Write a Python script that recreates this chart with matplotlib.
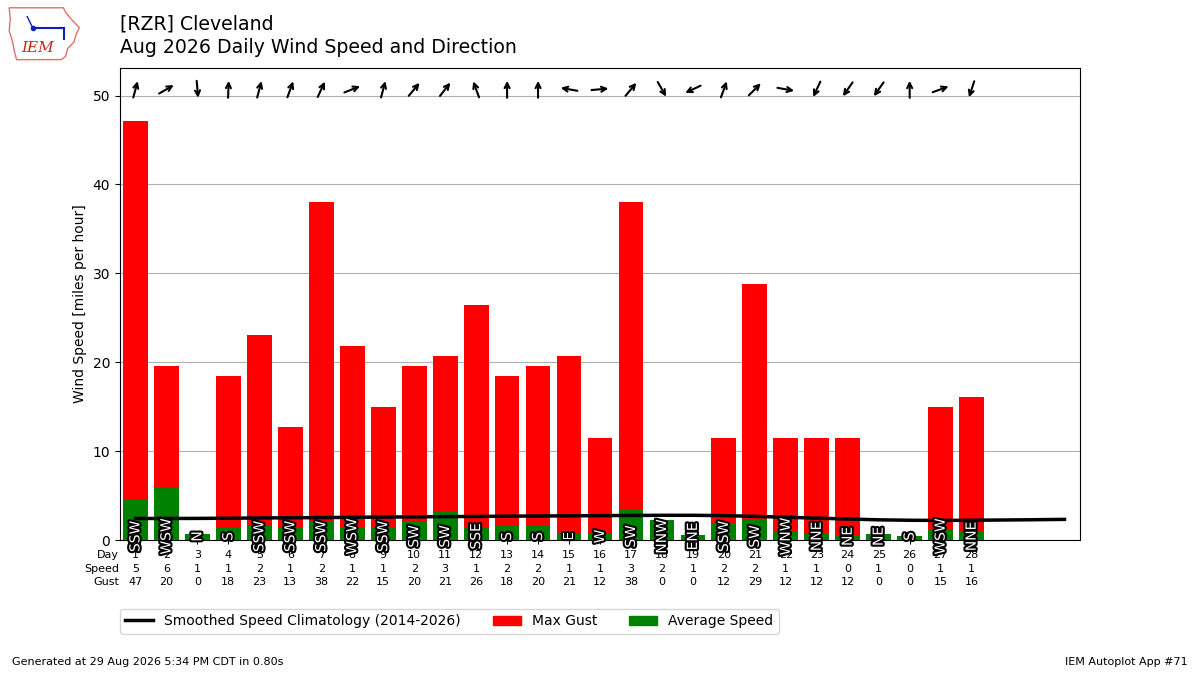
import matplotlib
matplotlib.use("Agg")
import matplotlib.pyplot as plt
import matplotlib.patheffects as PathEffects
import matplotlib.transforms as mtransforms
from matplotlib.patches import Patch, Polygon
from matplotlib.lines import Line2D
import numpy as np

# daily values (mph)
days = list(range(1, 29))
avg_speed = [4.6, 6.0, 0.71, 1.39, 1.69, 1.39, 2.06, 1.39, 1.39, 2.06,
             3.19, 1.39, 1.69, 1.69, 0.71, 0.79, 3.45, 2.25, 0.56, 1.88,
             2.33, 0.94, 0.71, 0.49, 0.71, 0.49, 1.24, 0.94]
max_gust = [47.18, 19.56, 0, 18.41, 23.02, 12.66, 37.97, 21.86, 14.96, 19.56,
            20.71, 26.47, 18.41, 19.56, 20.71, 11.51, 37.97, 0, 0, 11.51,
            28.77, 11.51, 11.51, 11.51, 0, 0, 14.96, 16.11]
avg_drct = [195, 240, 355, 182, 195, 200, 205, 248, 195, 220,
            218, 160, 180, 180, 100, 265, 220, 330, 65, 200,
            225, 280, 25, 35, 35, 180, 250, 18]
drct_text = ["SSW", "WSW", "N", "S", "SSW", "SSW", "SSW", "WSW", "SSW", "SW",
             "SW", "SSE", "S", "S", "E", "W", "SW", "NNW", "ENE", "SSW",
             "SW", "WNW", "NNE", "NE", "NE", "S", "WSW", "NNE"]

# smoothed climatology, days 1..31
clim_days = list(range(1, 32))
clim_speed = [2.42, 2.42, 2.43, 2.45, 2.48, 2.5, 2.52, 2.55, 2.58, 2.6,
              2.63, 2.65, 2.68, 2.7, 2.72, 2.74, 2.76, 2.78, 2.78, 2.74,
              2.66, 2.56, 2.46, 2.36, 2.27, 2.22, 2.2, 2.22, 2.25, 2.28, 2.32]

fig = plt.figure(figsize=(12, 6.75), dpi=100)
ax = fig.add_axes([0.1, 0.2, 0.8, 0.6993])

ax.bar(days, max_gust, width=0.8, color="r", zorder=2)
ax.bar(days, avg_speed, width=0.8, color="g", zorder=3)
ax.plot(clim_days, clim_speed, color="k", lw=2.5, zorder=4)

# direction labels inside the bars
for d, txt in zip(days, drct_text):
    t = ax.text(d, 0.4, txt, rotation=90, ha="center", va="center",
                color="white", fontsize=10, zorder=5)
    t.set_path_effects([PathEffects.withStroke(linewidth=3, foreground="k")])

# direction arrows along the top (pointing where the wind blows to)
half = 6.1
for d, drct in zip(days, avg_drct):
    theta = np.radians(drct + 180)
    dx = half * np.sin(theta)
    dy = half * np.cos(theta)
    head = mtransforms.offset_copy(ax.transData, fig=fig, x=dx, y=dy, units="points")
    tail = mtransforms.offset_copy(ax.transData, fig=fig, x=-dx, y=-dy, units="points")
    ax.annotate("", xy=(d, 50.7), xycoords=head, xytext=(d, 50.7), textcoords=tail,
                arrowprops=dict(arrowstyle="->", lw=1.5, color="k",
                                shrinkA=0, shrinkB=0, mutation_scale=9),
                zorder=6)

ax.set_xlim(0.5, 31.5)
ax.set_ylim(0, 53.1)
ax.set_yticks([0, 10, 20, 30, 40, 50])
ax.set_xticks(days)
ax.set_xticklabels([])
ax.tick_params(axis="x", length=3)
ax.grid(axis="y", color="#b0b0b0", lw=0.8)
ax.set_axisbelow(True)
ax.set_ylabel("Wind Speed [miles per hour]")

# table of values below the axis
trans = mtransforms.blended_transform_factory(ax.transData, ax.transAxes)
rows = [("Day", days),
        ("Speed", [int(round(v)) for v in avg_speed]),
        ("Gust", [int(round(v)) for v in max_gust])]
for i, (name, vals) in enumerate(rows):
    y = -0.032 - i * 0.0288
    ax.text(0.47, y, name, transform=trans, ha="right", va="center", fontsize=8)
    for d, v in zip(days, vals):
        ax.text(d, y, str(v), transform=trans, ha="center", va="center", fontsize=8)

handles = [Line2D([], [], color="k", lw=2.5),
           Patch(color="r"), Patch(color="g")]
labels = ["Smoothed Speed Climatology (2014-2026)", "Max Gust", "Average Speed"]
fig.legend(handles, labels, loc="upper left", bbox_to_anchor=(0.094, 0.1085),
           ncol=3, fontsize=10, columnspacing=2.3)

fig.text(0.1, 0.965, "[RZR] Cleveland", fontsize=13.6, va="center")
fig.text(0.1, 0.929, "Aug 2026 Daily Wind Speed and Direction", fontsize=13.6, va="center")
fig.text(0.01, 0.015, "Generated at 29 Aug 2026 5:34 PM CDT in 0.80s", fontsize=8)
fig.text(0.99, 0.015, "IEM Autoplot App #71", fontsize=8, ha="right")

# small logo
lax = fig.add_axes([0.005, 0.91, 0.062, 0.085])
lax.set_xlim(0, 70)
lax.set_ylim(52, 0)
lax.axis("off")
outline = [(3, 4), (54, 4), (56, 8), (62, 15), (69, 22), (66, 28), (64, 35),
           (58, 41), (56, 48), (52, 51), (10, 51), (8, 44), (6, 34), (3, 25), (4, 14)]
lax.add_patch(Polygon(outline, closed=True, fill=False, ec="#e07070", lw=1))
lax.plot([25, 55], [22, 22], color="#1020c0", lw=1.5)
lax.plot([25], [22], "o", color="#1020c0", ms=3)
lax.plot([20, 25], [12, 22], color="#1020c0", lw=1)
lax.plot([55, 55], [22, 32], color="#1020c0", lw=1.5)
lax.text(30, 40, "IEM", color="#d02020", fontsize=11, family="serif",
         style="italic", ha="center", va="center")

fig.savefig("out.png", dpi=100)
